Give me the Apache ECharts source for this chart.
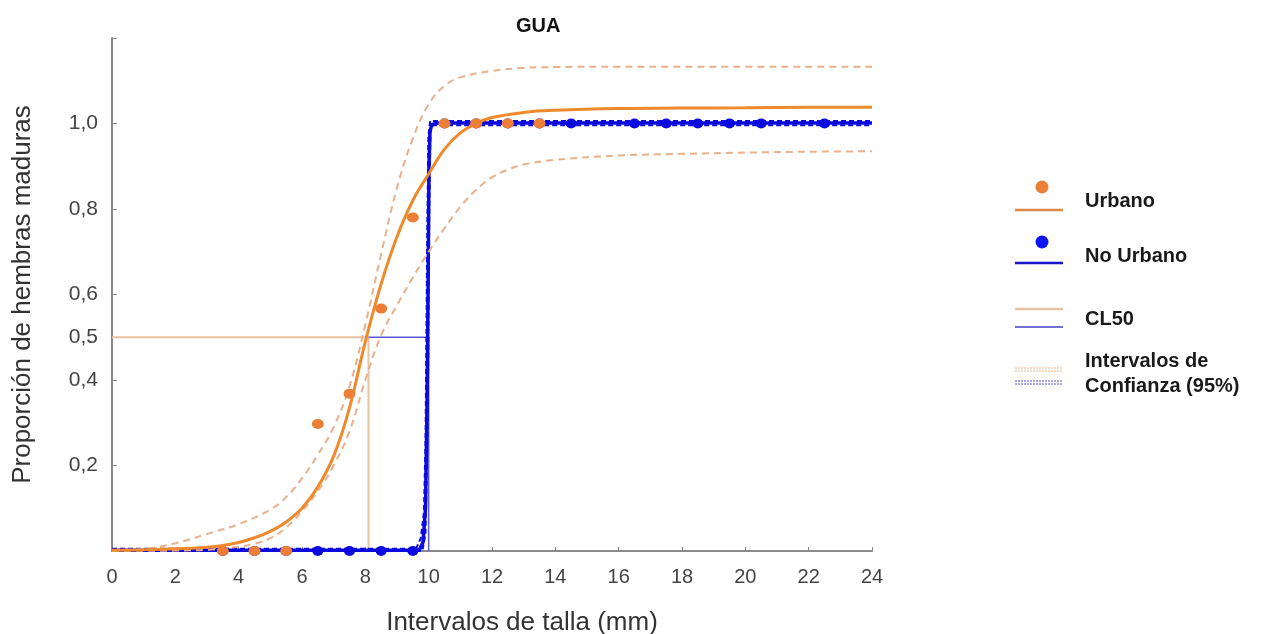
<!DOCTYPE html>
<html><head><meta charset="utf-8">
<script src="https://cdn.jsdelivr.net/npm/echarts@6/dist/echarts.min.js"></script>
<style>html,body{margin:0;padding:0;background:#fff}#c{width:1271px;height:634px}</style>
</head><body><div id="c"></div>
<script>
// ---- data ----
const yLabelValues = [0.2, 0.4, 0.5, 0.6, 0.8, 1.0];
const yTickValues = [0.2, 0.4, 0.6, 0.8, 1.0, 1.2];
const urbanoPoints = [[3.5,0],[4.5,0],[5.5,0],[6.5,0.297],[7.5,0.368],[8.5,0.567],[9.5,0.78],[10.5,1],[11.5,1],[12.5,1],[13.5,1]];
const noUrbanoPoints = [[3.5,0],[4.5,0],[5.5,0],[6.5,0],[7.5,0],[8.5,0],[9.5,0],[10.5,1],[11.5,1],[12.5,1],[13.5,1],[14.5,1],[16.5,1],[17.5,1],[18.5,1],[19.5,1],[20.5,1],[22.5,1]];
const urbanoFit = [[0,0.002],[1,0.003],[2,0.005],[3,0.009],[3.5,0.013],[4,0.02],[4.5,0.031],[5,0.046],[5.5,0.068],[6,0.1],[6.5,0.15],[7,0.222],[7.5,0.335],[8,0.49],[8.5,0.625],[9,0.735],[9.5,0.82],[10,0.882],[10.5,0.94],[11,0.978],[11.5,1.0],[12,1.014],[13,1.026],[14,1.031],[16,1.035],[18,1.036],[20,1.037],[22,1.038],[24,1.038]];
const urbanoUpper = [[0,0.002],[1,0.005],[2,0.018],[3,0.04],[4,0.063],[5,0.097],[5.5,0.126],[6,0.17],[6.5,0.225],[7,0.29],[7.5,0.385],[8,0.53],[8.5,0.695],[9,0.85],[9.5,0.965],[10,1.045],[10.5,1.088],[11,1.108],[12,1.123],[13,1.13],[14,1.132],[16,1.133],[18,1.133],[20,1.133],[22,1.133],[24,1.133]];
const urbanoLower = [[0,0],[1,0.0005],[2,0.001],[3,0.003],[4,0.01],[4.5,0.017],[5,0.03],[5.5,0.055],[6,0.093],[6.5,0.14],[7,0.2],[7.5,0.28],[8,0.4],[8.5,0.505],[9,0.575],[9.5,0.64],[10,0.7],[10.5,0.755],[11,0.805],[11.5,0.845],[12,0.874],[12.5,0.892],[13,0.904],[14,0.915],[16,0.925],[18,0.929],[20,0.932],[22,0.934],[24,0.935]];
const noUrbanoFit = [[0,0.002],[9.7,0.002],[9.82,0.02],[9.9,0.1],[9.95,0.35],[9.98,0.6],[10.01,0.9],[10.04,0.98],[10.1,0.998],[10.3,1.001],[24,1.001]];
const noUrbanoUpper = [[0,0.005],[9.6,0.005],[9.75,0.03],[9.85,0.09],[9.9,0.25],[9.95,0.7],[9.99,0.97],[10.05,1.006],[24,1.006]];
const noUrbanoLower = [[0,0],[9.8,0],[9.9,0.04],[9.97,0.3],[10.02,0.8],[10.06,0.985],[10.15,0.996],[24,0.996]];
const cl50Urbano = 8.1;
const cl50NoUrbano = 10.0;
const cl50Level = 0.5;

// ---- styles ----
const FONT = "'Liberation Sans', Arial, sans-serif";
const ORANGE = '#EE8A2C', ORANGE_PT = '#EC7F35', ORANGE_CI = '#E8B08C', ORANGE_CL = '#E6C4A2';
const BLUE = '#0A0ADE', BLUE_CL = '#5A5AD4';

const chart = echarts.init(document.getElementById('c'), null, {renderer: 'canvas'});
function line(name, data, color, width, dash, z) {
  return {type:'line', name, data, showSymbol:false, smooth:false, z: z||2,
    lineStyle:{color, width, type: dash || 'solid'}, silent:true, animation:false};
}
function smoothLine(name, data, color, width, dash, z) {
  const s = line(name, data, color, width, dash, z); s.smooth = 0.4; return s;
}
const option = {
  animation: false,
  backgroundColor: '#fff',
  title: {text: 'GUA', left: 511, top: 11, textStyle: {fontFamily: FONT, fontWeight: 'bold', fontSize: 20, color: '#111'}},
  grid: {left: 112, right: 399, top: 38, bottom: 83, containLabel: false, outerBoundsMode: 'none'},
  xAxis: {type: 'value', min: 0, max: 24, interval: 2,
    name: 'Intervalos de talla (mm)', nameLocation: 'middle', nameGap: 59,
    nameTextStyle: {fontFamily: FONT, fontSize: 26, color: '#333', padding: [0,0,0,60]},
    axisLine: {show: true, lineStyle: {color: '#8a8a8a', width: 2}},
    axisTick: {show: true, inside: true, length: 4, lineStyle: {color: '#8a8a8a'}},
    axisLabel: {fontFamily: FONT, fontSize: 20, color: '#444', margin: 16},
    splitLine: {show: false}},
  yAxis: {type: 'value', min: 0, max: 1.2,
    name: 'Proporción de hembras maduras', nameLocation: 'middle', nameGap: 76,
    nameTextStyle: {fontFamily: FONT, fontSize: 26, color: '#333'},
    axisLine: {show: true, lineStyle: {color: '#8a8a8a', width: 2}},
    axisTick: {show: true, inside: true, length: 5, customValues: yTickValues, lineStyle: {color: '#8a8a8a'}},
    axisLabel: {fontFamily: FONT, fontSize: 21, color: '#444', margin: 14, customValues: yLabelValues,
      formatter: v => v.toFixed(1).replace('.', ',')},
    splitLine: {show: false}},
  series: [
    line('CL50 Urbano', [[0, cl50Level], [cl50Urbano, cl50Level], [cl50Urbano, 0]], ORANGE_CL, 2, 'solid', 1),
    line('CL50 No Urbano', [[cl50Urbano, cl50Level], [cl50NoUrbano, cl50Level], [cl50NoUrbano, 0]], BLUE_CL, 1.5, 'solid', 1),
    line('IC No Urbano sup', noUrbanoUpper, BLUE, 2, [5,3], 2),
    line('IC No Urbano inf', noUrbanoLower, BLUE, 2, [5,3], 2),
    line('No Urbano', noUrbanoFit, BLUE, 3.5, 'solid', 3),
    {type:'scatter', name:'No Urbano pts', data: noUrbanoPoints, symbol:'circle', symbolSize:[11,10], itemStyle:{color: BLUE, opacity: 1}, z:4, silent:true},
    smoothLine('IC Urbano sup', urbanoUpper, ORANGE_CI, 2, [7,5], 5),
    smoothLine('IC Urbano inf', urbanoLower, ORANGE_CI, 2, [7,5], 5),
    smoothLine('Urbano', urbanoFit, ORANGE, 3, 'solid', 6),
    {type:'scatter', name:'Urbano pts', data: urbanoPoints, symbol:'circle', symbolSize:[12,10], itemStyle:{color: ORANGE_PT, opacity: 1}, z:7, silent:true}
  ],
  graphic: [
    {type:'circle', shape:{cx:1042, cy:187, r:6.5}, style:{fill: ORANGE_PT}},
    {type:'line', shape:{x1:1015, y1:210, x2:1063, y2:210}, style:{stroke:'#E0874A', lineWidth:2.5}},
    {type:'text', x:1085, y:201, style:{text:'Urbano', font:"bold 20px " + FONT, fill:'#1a1a1a', verticalAlign:'middle'}},
    {type:'circle', shape:{cx:1042, cy:242, r:6.5}, style:{fill:'#0B14F2'}},
    {type:'line', shape:{x1:1015, y1:263, x2:1063, y2:263}, style:{stroke:'#1818C8', lineWidth:2.5}},
    {type:'text', x:1085, y:256, style:{text:'No Urbano', font:"bold 20px " + FONT, fill:'#1a1a1a', verticalAlign:'middle'}},
    {type:'line', shape:{x1:1015, y1:309, x2:1063, y2:309}, style:{stroke: ORANGE_CL, lineWidth:2.5}},
    {type:'line', shape:{x1:1015, y1:327, x2:1063, y2:327}, style:{stroke:'#4040CC', lineWidth:1.5}},
    {type:'text', x:1085, y:319, style:{text:'CL50', font:"bold 20px " + FONT, fill:'#1a1a1a', verticalAlign:'middle'}},
    {type:'line', shape:{x1:1015, y1:368, x2:1063, y2:368}, style:{stroke: ORANGE_CI, lineWidth:1, lineDash:[2,1]}},
    {type:'line', shape:{x1:1015, y1:371, x2:1063, y2:371}, style:{stroke: ORANGE_CI, lineWidth:1, lineDash:[2,1]}},
    {type:'line', shape:{x1:1015, y1:381, x2:1063, y2:381}, style:{stroke:'#5050D8', lineWidth:1, lineDash:[2,1]}},
    {type:'line', shape:{x1:1015, y1:384, x2:1063, y2:384}, style:{stroke:'#5050D8', lineWidth:1, lineDash:[2,1]}},
    {type:'text', x:1085, y:361, style:{text:'Intervalos de', font:"bold 20px " + FONT, fill:'#1a1a1a', verticalAlign:'middle'}},
    {type:'text', x:1085, y:386, style:{text:'Confianza (95%)', font:"bold 20px " + FONT, fill:'#1a1a1a', verticalAlign:'middle'}}
  ]
};
chart.setOption(option);
</script>
</body></html>
